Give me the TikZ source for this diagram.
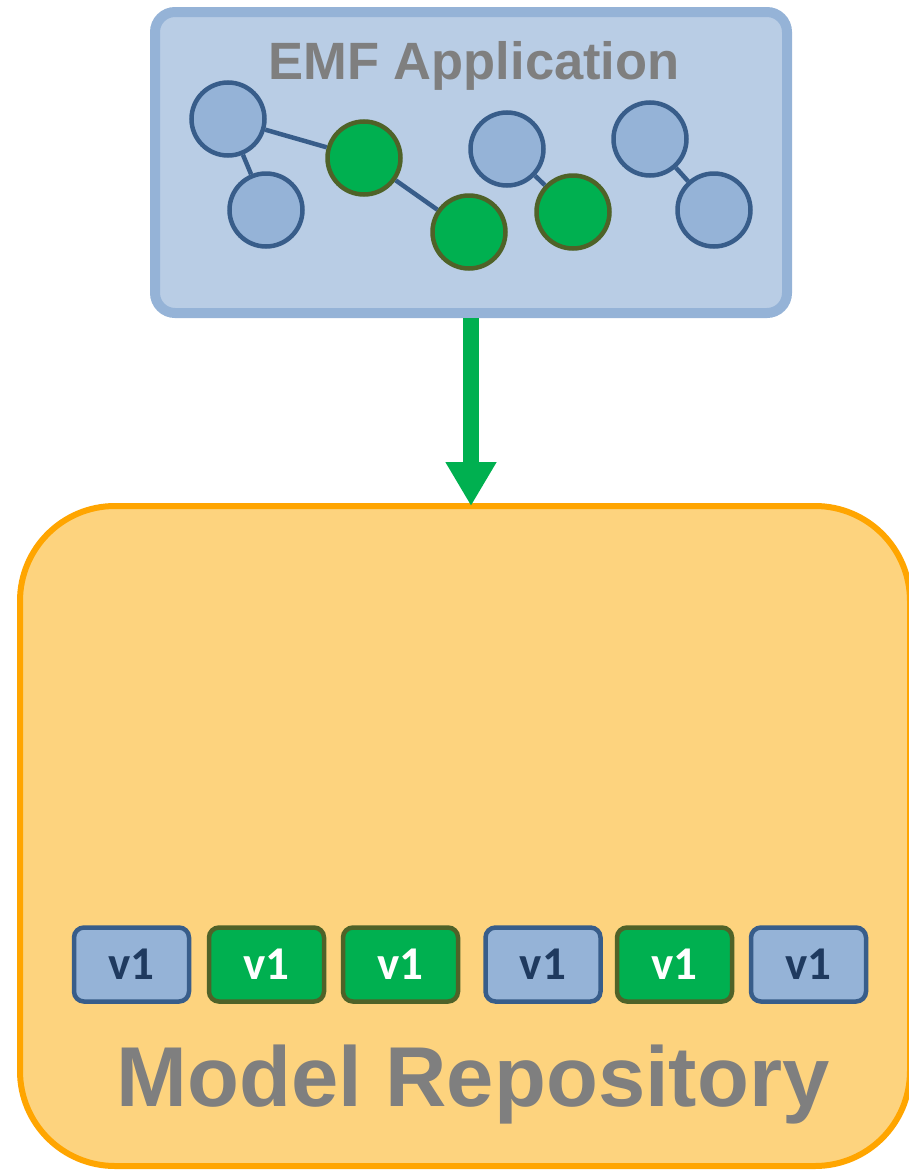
\documentclass[tikz,border=0pt]{standalone}
\usepackage{fontspec}
\setmainfont{Liberation Sans}
\newfontfamily\vfont{Carlito}
\usetikzlibrary{arrows.meta}
\definecolor{appfill}{HTML}{B9CDE5}
\definecolor{appline}{HTML}{95B3D7}
\definecolor{bluefill}{HTML}{95B3D7}
\definecolor{blueline}{HTML}{385D8A}
\definecolor{greenfill}{HTML}{00B050}
\definecolor{greenline}{HTML}{4F6228}
\definecolor{repofill}{HTML}{FDD37E}
\definecolor{repoline}{HTML}{FFA500}
\definecolor{titlegray}{HTML}{7F7F7F}
\definecolor{navy}{HTML}{1F3A5F}
\tikzset{
  appbox/.style={draw=appline, fill=appfill, line width=10pt, rounded corners=20pt, inner sep=0pt, outer sep=0pt},
  repobox/.style={draw=repoline, fill=repofill, line width=6pt, rounded corners=95pt, inner sep=0pt, outer sep=0pt},
  bluec/.style={circle, draw=blueline, fill=bluefill, line width=4.5pt, minimum size=73pt, inner sep=0pt},
  greenc/.style={circle, draw=greenline, fill=greenfill, line width=4.5pt, minimum size=73pt, inner sep=0pt},
  edge/.style={draw=blueline, line width=4.5pt},
  vbox/.style={rounded corners=10pt, line width=4.5pt, minimum width=115pt, minimum height=74pt, inner sep=0pt, font=\vfont\bfseries\fontsize{47}{50}\selectfont},
  vblue/.style={vbox, draw=blueline, fill=bluefill, text=navy},
  vgreen/.style={vbox, draw=greenline, fill=greenfill, text=white},
  arrowst/.style={draw=greenfill, line width=16pt, -{Triangle[length=44pt,width=48pt]}},
  apptitle/.style={text=titlegray, font=\bfseries\fontsize{52.5}{56}\selectfont, inner sep=0pt},
  repotitle/.style={text=titlegray, font=\bfseries\fontsize{85}{90}\selectfont, inner sep=0pt}
}
\begin{document}
\begin{tikzpicture}[x=1pt,y=-1pt]
\useasboundingbox (0,0) rectangle (909,1170);
% repository
\node[repobox, minimum width=890pt, minimum height=660pt, anchor=north west] (repo) at (20,506) {};
% application
\node[appbox, minimum width=632pt, minimum height=301pt, anchor=north west] (app) at (155,12) {};
\node[apptitle, anchor=base] (title) at (474,79) {EMF Application};
% graph
\node[bluec] (b1) at (228,119) {};
\node[bluec] (b2) at (266,210) {};
\node[greenc] (g1) at (364,158) {};
\node[greenc] (g2) at (469,232) {};
\node[bluec] (b3) at (507,149) {};
\node[greenc] (g3) at (573,212) {};
\node[bluec] (b4) at (650,139) {};
\node[bluec] (b5) at (714,210) {};
\draw[edge] (b1) -- (g1);
\draw[edge] (b1) -- (b2);
\draw[edge] (g1) -- (g2);
\draw[edge] (b3) -- (g3);
\draw[edge] (b4) -- (b5);
% arrow
\draw[arrowst, shorten <=5pt] (app.south) -- (app.south |- repo.north);
% versions
\node[vblue] (v1) at (131.5,964.5) {v1};
\node[vgreen] (v2) at (266.5,964.5) {v1};
\node[vgreen] (v3) at (400.5,964.5) {v1};
\node[vblue] (v4) at (543,964.5) {v1};
\node[vgreen] (v5) at (674.5,964.5) {v1};
\node[vblue] (v6) at (808.5,964.5) {v1};
\node[repotitle, anchor=base] (rtitle) at (473,1106) {Model Repository};
\end{tikzpicture}
\end{document}
